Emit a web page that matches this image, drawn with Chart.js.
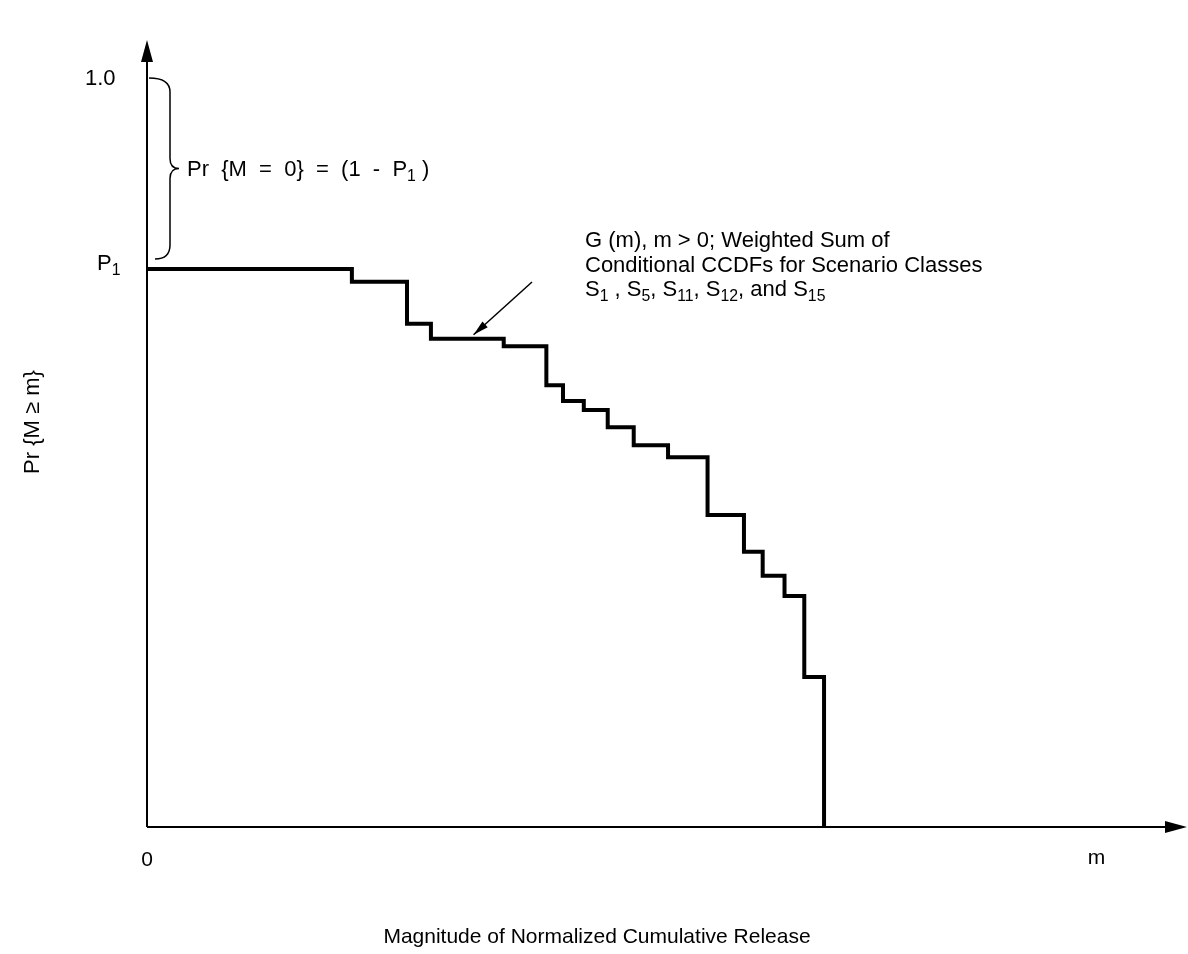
<!DOCTYPE html>
<html>
<head>
<meta charset="utf-8">
<script src="https://cdn.jsdelivr.net/npm/chart.js@4"></script>
<style>
  html, body { margin: 0; padding: 0; background: #fff; }
  #wrap { width: 1188px; height: 954px; }
</style>
</head>
<body>
<div id="wrap"><canvas id="ccdf"></canvas></div>
<script>
// Edges of the steps (m, arbitrary units with the axis running 0..100)
const stepM = [0, 19.7, 25.0, 27.3, 34.3, 38.4, 40.0, 42.0, 44.3, 46.8, 50.1, 53.9, 57.4, 59.2, 61.3, 63.2, 65.1];
// Value of G(m) just after each edge
const stepG = [0.744, 0.727, 0.671, 0.651, 0.641, 0.589, 0.568, 0.556, 0.533, 0.509, 0.493, 0.416, 0.367, 0.335, 0.308, 0.200, 0];
const P1 = 0.744;
const yTickValues = [1.0, P1];
const xTickValues = [0, 91.3];
const noteLines = ['G (m), m > 0; Weighted Sum of', 'Conditional CCDFs for Scenario Classes'];

const FONT = '"Liberation Sans", Arial, sans-serif';

// Text with simple subscripts: parts = [[text, isSub], ...]
function drawRich(ctx, parts, x, y, size) {
    let cx = x;
    parts.forEach(p => {
        const sub = p[1];
        ctx.font = (sub ? size * 0.72 : size) + 'px ' + FONT;
        ctx.fillText(p[0], cx, sub ? y + size * 0.32 : y);
        cx += ctx.measureText(p[0]).width;
    });
}

const axesAndNotes = {
    id: 'axesAndNotes',
    afterDatasetsDraw(chart) {
        const ctx = chart.ctx;
        const xs = chart.scales.x, ys = chart.scales.y;
        const x0 = xs.getPixelForValue(0), y0 = ys.getPixelForValue(0);
        const area = chart.chartArea;
        ctx.save();
        ctx.strokeStyle = '#000';
        ctx.fillStyle = '#000';
        ctx.lineWidth = 2;

        // axes with arrow heads
        ctx.beginPath();
        ctx.moveTo(x0, y0); ctx.lineTo(x0, area.top + 14);
        ctx.moveTo(x0, y0); ctx.lineTo(area.right - 14, y0);
        ctx.stroke();
        ctx.beginPath();
        ctx.moveTo(x0, area.top); ctx.lineTo(x0 - 6, area.top + 22); ctx.lineTo(x0 + 6, area.top + 22); ctx.closePath();
        ctx.moveTo(area.right, y0); ctx.lineTo(area.right - 22, y0 - 6); ctx.lineTo(area.right - 22, y0 + 6); ctx.closePath();
        ctx.fill();

        // tick labels
        ctx.textBaseline = 'middle';
        ctx.textAlign = 'left';
        ctx.font = '22px ' + FONT;
        ctx.fillText('1.0', 85, ys.getPixelForValue(yTickValues[0]) + 2);
        drawRich(ctx, [['P', false], ['1', true]], 97, ys.getPixelForValue(yTickValues[1]) - 5, 22);
        ctx.textAlign = 'center';
        ctx.font = '21px ' + FONT;
        ctx.fillText('0', xs.getPixelForValue(xTickValues[0]), y0 + 33);
        ctx.fillText('m', xs.getPixelForValue(xTickValues[1]), y0 + 31);

        // axis titles
        ctx.fillText('Magnitude of Normalized Cumulative Release', 597, 937);
        ctx.save();
        ctx.translate(33, 422);
        ctx.rotate(-Math.PI / 2);
        ctx.font = '22px ' + FONT;
        ctx.fillText('Pr {M \u2265 m}', 0, 0);
        ctx.restore();

        // brace between 1.0 and P1
        const yTop = ys.getPixelForValue(1.0) + 1, yBot = ys.getPixelForValue(P1) - 10;
        const yMid = (yTop + yBot) / 2, bx = x0 + 23;
        ctx.lineWidth = 1.5;
        ctx.beginPath();
        ctx.moveTo(x0 + 2, yTop);
        ctx.quadraticCurveTo(bx, yTop, bx, yTop + 14);
        ctx.lineTo(bx, yMid - 10);
        ctx.quadraticCurveTo(bx, yMid, bx + 9, yMid);
        ctx.quadraticCurveTo(bx, yMid, bx, yMid + 10);
        ctx.lineTo(bx, yBot - 14);
        ctx.quadraticCurveTo(bx, yBot, x0 + 8, yBot);
        ctx.stroke();
        ctx.textAlign = 'left';
        drawRich(ctx, [['Pr  {M  =  0}  =  (1  -  P', false], ['1', true], [' )', false]], bx + 17, yMid + 1, 22);

        // annotation of G(m)
        ctx.font = '22px ' + FONT;
        ctx.fillText(noteLines[0], 585, 241);
        ctx.fillText(noteLines[1], 585, 266);
        drawRich(ctx, [['S', false], ['1', true], [' , S', false], ['5', true], [', S', false], ['11', true],
            [', S', false], ['12', true], [', and S', false], ['15', true]], 585, 290, 22);
        const ax = 532, ay = 282;
        const tx = xs.getPixelForValue(31.4), ty = ys.getPixelForValue(stepG[3]) - 4;
        ctx.lineWidth = 1.5;
        ctx.beginPath(); ctx.moveTo(ax, ay); ctx.lineTo(tx, ty); ctx.stroke();
        const ang = Math.atan2(ty - ay, tx - ax);
        ctx.beginPath();
        ctx.moveTo(tx, ty);
        ctx.lineTo(tx - 16 * Math.cos(ang - 0.25), ty - 16 * Math.sin(ang - 0.25));
        ctx.lineTo(tx - 16 * Math.cos(ang + 0.25), ty - 16 * Math.sin(ang + 0.25));
        ctx.closePath();
        ctx.fill();
        ctx.restore();
    }
};

new Chart(document.getElementById('ccdf').getContext('2d'), {
    type: 'line',
    data: {
        datasets: [{
            label: 'G (m)',
            data: stepM.map((m, i) => ({ x: m, y: stepG[i] })),
            stepped: 'before',
            borderColor: '#000',
            borderWidth: 4,
            pointRadius: 0,
            fill: false
        }]
    },
    options: {
        responsive: true,
        maintainAspectRatio: false,
        animation: false,
        layout: { padding: { left: 147, right: 1, top: 40, bottom: 127 } },
        plugins: {
            legend: { display: false },
            tooltip: { enabled: false }
        },
        scales: {
            x: { type: 'linear', min: 0, max: 100, display: false },
            y: { type: 'linear', min: 0, max: 1.0493, display: false }
        }
    },
    plugins: [axesAndNotes]
});
</script>
</body>
</html>
